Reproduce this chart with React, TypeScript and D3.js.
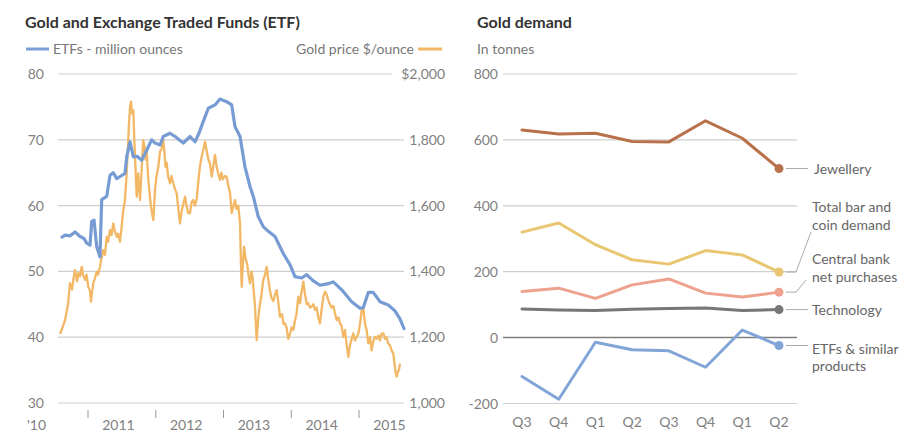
import React from "react";
import * as d3 from "d3";

// ---------- Left chart data ----------
// ETF holdings, million ounces: [decimal year, value]
const etfHoldings: [number, number][] = [
  [2010.616, 55.2], [2010.661, 55.5], [2010.734, 55.4], [2010.808, 56.0], [2010.882, 55.3],
  [2010.941, 55.0], [2010.981, 54.3], [2011.030, 54.0], [2011.055, 57.6], [2011.089, 57.8],
  [2011.128, 53.8], [2011.177, 52.2], [2011.202, 60.9], [2011.276, 61.4], [2011.325, 64.6],
  [2011.373, 65.0], [2011.424, 64.1], [2011.487, 64.5], [2011.546, 64.9], [2011.571, 67.4],
  [2011.620, 69.7], [2011.669, 67.4], [2011.723, 67.5], [2011.793, 66.9], [2011.866, 68.4],
  [2011.940, 70.0], [2011.989, 69.5], [2012.063, 69.2], [2012.111, 70.5], [2012.210, 71.0],
  [2012.299, 70.4], [2012.407, 69.5], [2012.506, 70.5], [2012.579, 69.7], [2012.638, 71.0],
  [2012.702, 72.8], [2012.776, 74.8], [2012.875, 75.3], [2012.948, 76.2], [2013.047, 75.8],
  [2013.121, 75.3], [2013.170, 72.0], [2013.244, 70.5], [2013.317, 65.9], [2013.391, 62.9],
  [2013.440, 61.4], [2013.514, 58.3], [2013.587, 56.8], [2013.638, 56.3], [2013.760, 55.3],
  [2013.883, 52.7], [2013.982, 51.0], [2014.055, 49.2], [2014.154, 49.0], [2014.228, 49.5],
  [2014.321, 48.6], [2014.424, 47.9], [2014.528, 48.1], [2014.621, 48.4], [2014.745, 47.2],
  [2014.892, 45.4], [2015.015, 44.4], [2015.064, 44.5], [2015.137, 46.8], [2015.211, 46.8],
  [2015.310, 45.4], [2015.432, 44.9], [2015.531, 44.0], [2015.605, 42.8], [2015.664, 41.3],
];

// Gold price, $/ounce: [decimal year, price]
const goldPrice: [number, number][] = [
  [2010.587, 1210], [2010.616, 1225], [2010.661, 1252], [2010.705, 1300], [2010.734, 1364],
  [2010.764, 1345], [2010.783, 1374], [2010.808, 1404], [2010.838, 1370], [2010.857, 1395],
  [2010.882, 1385], [2010.907, 1414], [2010.926, 1390], [2010.956, 1374], [2010.978, 1390],
  [2011.004, 1353], [2011.030, 1340], [2011.044, 1308], [2011.059, 1335], [2011.078, 1364],
  [2011.103, 1380], [2011.128, 1399], [2011.148, 1390], [2011.177, 1414], [2011.199, 1440],
  [2011.226, 1465], [2011.251, 1450], [2011.276, 1505], [2011.295, 1490], [2011.325, 1526],
  [2011.347, 1510], [2011.373, 1546], [2011.399, 1520], [2011.424, 1505], [2011.443, 1515],
  [2011.472, 1490], [2011.497, 1536], [2011.517, 1580], [2011.546, 1617], [2011.571, 1698],
  [2011.590, 1780], [2011.605, 1850], [2011.620, 1900], [2011.635, 1916], [2011.649, 1880],
  [2011.669, 1890], [2011.682, 1810], [2011.694, 1749], [2011.708, 1680], [2011.719, 1627],
  [2011.731, 1660], [2011.742, 1698], [2011.756, 1650], [2011.768, 1617], [2011.790, 1700],
  [2011.804, 1760], [2011.816, 1799], [2011.834, 1780], [2011.849, 1740], [2011.866, 1769],
  [2011.878, 1720], [2011.890, 1680], [2011.908, 1640], [2011.930, 1597], [2011.945, 1577],
  [2011.964, 1556], [2011.977, 1600], [2011.989, 1647], [2012.011, 1690], [2012.038, 1718],
  [2012.063, 1764], [2012.088, 1774], [2012.111, 1799], [2012.129, 1760], [2012.144, 1718],
  [2012.162, 1730], [2012.181, 1690], [2012.210, 1668], [2012.232, 1690], [2012.259, 1668],
  [2012.284, 1650], [2012.309, 1637], [2012.328, 1600], [2012.358, 1546], [2012.380, 1580],
  [2012.402, 1600], [2012.432, 1627], [2012.454, 1600], [2012.480, 1577], [2012.506, 1577],
  [2012.528, 1610], [2012.554, 1617], [2012.579, 1600], [2012.604, 1620], [2012.631, 1680],
  [2012.653, 1720], [2012.678, 1749], [2012.702, 1770], [2012.727, 1794], [2012.749, 1770],
  [2012.776, 1740], [2012.801, 1728], [2012.826, 1688], [2012.849, 1720], [2012.875, 1754],
  [2012.897, 1720], [2012.919, 1700], [2012.948, 1678], [2012.970, 1700], [2012.993, 1680],
  [2013.022, 1690], [2013.047, 1688], [2013.071, 1660], [2013.096, 1640], [2013.121, 1577],
  [2013.145, 1597], [2013.170, 1617], [2013.192, 1590], [2013.218, 1600], [2013.244, 1546],
  [2013.258, 1420], [2013.269, 1353], [2013.280, 1400], [2013.303, 1475], [2013.325, 1440],
  [2013.351, 1420], [2013.369, 1390], [2013.391, 1364], [2013.413, 1400], [2013.431, 1380],
  [2013.450, 1330], [2013.465, 1293], [2013.477, 1240], [2013.490, 1191], [2013.506, 1240],
  [2013.524, 1280], [2013.539, 1300], [2013.561, 1330], [2013.587, 1374], [2013.613, 1390],
  [2013.638, 1414], [2013.657, 1380], [2013.686, 1343], [2013.708, 1320], [2013.735, 1310],
  [2013.760, 1330], [2013.785, 1343], [2013.812, 1300], [2013.834, 1262], [2013.863, 1270],
  [2013.886, 1240], [2013.908, 1242], [2013.930, 1230], [2013.956, 1195], [2013.982, 1210],
  [2014.004, 1230], [2014.030, 1222], [2014.055, 1250], [2014.077, 1270], [2014.104, 1323],
  [2014.129, 1303], [2014.154, 1340], [2014.178, 1369], [2014.203, 1330], [2014.228, 1300],
  [2014.252, 1303], [2014.277, 1290], [2014.302, 1293], [2014.328, 1300], [2014.351, 1283],
  [2014.376, 1290], [2014.399, 1260], [2014.424, 1242], [2014.446, 1280], [2014.473, 1323],
  [2014.498, 1338], [2014.523, 1330], [2014.550, 1310], [2014.572, 1300], [2014.594, 1290],
  [2014.621, 1295], [2014.646, 1272], [2014.671, 1252], [2014.697, 1260], [2014.720, 1242],
  [2014.742, 1235], [2014.768, 1201], [2014.793, 1222], [2014.815, 1180], [2014.842, 1140],
  [2014.867, 1175], [2014.892, 1195], [2014.916, 1212], [2014.941, 1190], [2014.963, 1200],
  [2014.990, 1210], [2015.015, 1240], [2015.040, 1283], [2015.064, 1288], [2015.089, 1240],
  [2015.114, 1220], [2015.137, 1181], [2015.162, 1200], [2015.187, 1160], [2015.207, 1185],
  [2015.236, 1201], [2015.261, 1195], [2015.288, 1205], [2015.310, 1190], [2015.332, 1210],
  [2015.359, 1212], [2015.384, 1195], [2015.406, 1200], [2015.432, 1181], [2015.458, 1175],
  [2015.480, 1160], [2015.506, 1151], [2015.524, 1120], [2015.539, 1095], [2015.556, 1080],
  [2015.573, 1095], [2015.590, 1100], [2015.605, 1120],
];

const etfTicks = [30, 40, 50, 60, 70, 80];
const priceTicks = [1000, 1200, 1400, 1600, 1800, 2000];
const yearBoundaries = [2011, 2012, 2013, 2014, 2015];
const yearLabels = ["2011", "2012", "2013", "2014", "2015"];
const firstYearLabel = "'10";

// ---------- Right chart data ----------
const quarters = ["Q3", "Q4", "Q1", "Q2", "Q3", "Q4", "Q1", "Q2"];
const jewellery = [630, 618, 620, 595, 594, 658, 605, 513];
const barCoin = [320, 348, 282, 236, 223, 264, 251, 199];
const centralBank = [140, 150, 119, 160, 178, 135, 123, 138];
const technology = [87, 84, 82, 86, 88, 90, 82, 85];
const etfDemand = [-118, -187, -14, -37, -40, -90, 23, -24];
const demandTicks = [-200, 0, 200, 400, 600, 800];

const FONT = "Lato, 'Noto Sans', sans-serif";
const GRID = "#cfcfcf";
const TICK_TEXT = "#808080";

export default function App() {
  // left scales
  const xL = d3.scaleLinear().domain([2011, 2015]).range([88, 359]);
  const yEtf = d3.scaleLinear().domain([30, 80]).range([403, 74]);
  const yGold = d3.scaleLinear().domain([1000, 2000]).range([403, 74]);
  const etfLine = d3.line<[number, number]>().x((d) => xL(d[0])).y((d) => yEtf(d[1]));
  const goldLine = d3.line<[number, number]>().x((d) => xL(d[0])).y((d) => yGold(d[1]));
  const fmt = d3.format(",");

  // right scales
  const xR = d3.scalePoint<number>().domain(quarters.map((_, i) => i)).range([522, 779]);
  const yR = d3.scaleLinear().domain([-200, 800]).range([403.5, 74]);
  const demandLine = d3
    .line<number>()
    .x((_, i) => xR(i) as number)
    .y((d) => yR(d));

  const series = [
    { key: "jew", values: jewellery, color: "#b8714a" },
    { key: "bar", values: barCoin, color: "#e8c672" },
    { key: "cb", values: centralBank, color: "#eea28d" },
    { key: "tech", values: technology, color: "#777777" },
    { key: "etf", values: etfDemand, color: "#82a5d8" },
  ];
  const lastX = xR(quarters.length - 1) as number;
  const lastY = (v: number[]) => yR(v[v.length - 1]);

  const labelStyle = { fontFamily: FONT, fontSize: 14, fill: "#666" } as const;

  return (
    <svg
      width={902}
      height={432}
      style={{ position: "absolute", left: 0, top: 0, background: "#fff" }}
    >
      {/* ---------- LEFT CHART ---------- */}
      <text x={25} y={28} style={{ fontFamily: FONT, fontSize: 16, fontWeight: 700, fill: "#333" }}>
        Gold and Exchange Traded Funds (ETF)
      </text>
      <line x1={26} x2={49} y1={49} y2={49} stroke="#7b9fd4" strokeWidth={3} />
      <text x={53} y={54} style={{ fontFamily: FONT, fontSize: 14, fill: "#777" }}>
        ETFs - million ounces
      </text>
      <text x={414} y={54} textAnchor="end" style={{ fontFamily: FONT, fontSize: 14, fill: "#777" }}>
        Gold price $/ounce
      </text>
      <line x1={418} x2={442} y1={49} y2={49} stroke="#f2b866" strokeWidth={3} />

      {etfTicks.map((t, i) => (
        <g key={"lg" + t}>
          <line
            x1={58}
            x2={i === etfTicks.length - 1 ? 392 : 404}
            y1={yEtf(t)}
            y2={yEtf(t)}
            stroke={GRID}
            strokeWidth={1.2}
          />
          <text x={44} y={yEtf(t) + 5} textAnchor="end" style={{ fontFamily: FONT, fontSize: 14, fill: TICK_TEXT }}>
            {t}
          </text>
        </g>
      ))}
      {priceTicks.map((t, i) => (
        <text
          key={"rt" + t}
          x={445}
          y={yGold(t) + 5}
          textAnchor="end"
          style={{ fontFamily: FONT, fontSize: 14, fill: TICK_TEXT }}
        >
          {i === priceTicks.length - 1 ? "$" + fmt(t) : fmt(t)}
        </text>
      ))}

      {yearBoundaries.map((y) => (
        <line key={"yt" + y} x1={xL(y)} x2={xL(y)} y1={410} y2={418} stroke="#999" strokeWidth={1} />
      ))}
      <text x={27} y={430} style={{ fontFamily: FONT, fontSize: 14, fill: TICK_TEXT }}>
        {firstYearLabel}
      </text>
      {yearLabels.map((lab, i) => (
        <text
          key={"yl" + lab}
          x={xL(yearBoundaries[i] + 0.45)}
          y={430}
          textAnchor="middle"
          style={{ fontFamily: FONT, fontSize: 14, fill: TICK_TEXT }}
        >
          {lab}
        </text>
      ))}

      <path
        d={goldLine(goldPrice) || ""}
        fill="none"
        stroke="#f2b866"
        strokeWidth={2.3}
        strokeLinejoin="round"
      />
      <path
        d={etfLine(etfHoldings) || ""}
        fill="none"
        stroke="#779cd3"
        strokeWidth={3.2}
        strokeLinejoin="round"
        strokeLinecap="round"
      />

      {/* ---------- RIGHT CHART ---------- */}
      <text x={477} y={28} style={{ fontFamily: FONT, fontSize: 16, fontWeight: 700, fill: "#333" }}>
        Gold demand
      </text>
      <text x={477} y={54} style={{ fontFamily: FONT, fontSize: 14, fill: "#777" }}>
        In tonnes
      </text>

      {demandTicks.map((t) => (
        <g key={"dg" + t}>
          <line
            x1={503}
            x2={797}
            y1={yR(t)}
            y2={yR(t)}
            stroke={t === 0 ? "#7d7d7d" : GRID}
            strokeWidth={t === 0 ? 1.5 : 1.2}
          />
          <text x={498} y={yR(t) + 5} textAnchor="end" style={{ fontFamily: FONT, fontSize: 14, fill: TICK_TEXT }}>
            {t}
          </text>
        </g>
      ))}
      {quarters.map((q, i) => (
        <text
          key={"q" + i}
          x={xR(i) as number}
          y={427}
          textAnchor="middle"
          style={{ fontFamily: FONT, fontSize: 14, fill: TICK_TEXT }}
        >
          {q}
        </text>
      ))}

      {/* connectors */}
      <g stroke="#aaa" strokeWidth={1} fill="none">
        <line x1={lastX + 7} x2={808} y1={lastY(jewellery)} y2={lastY(jewellery)} />
        <polyline points={`${lastX + 7},${lastY(barCoin)} ${796},${lastY(barCoin)} ${811},${232}`} />
        <polyline points={`${lastX + 7},${lastY(centralBank)} ${796},${lastY(centralBank)} ${806},${280}`} />
        <line x1={lastX + 7} x2={808} y1={lastY(technology)} y2={lastY(technology)} />
        <line x1={lastX + 7} x2={808} y1={lastY(etfDemand)} y2={lastY(etfDemand)} />
      </g>

      {series.map((s) => (
        <g key={s.key}>
          <path
            d={demandLine(s.values) || ""}
            fill="none"
            stroke={s.color}
            strokeWidth={3}
            strokeLinejoin="round"
            strokeLinecap="round"
          />
          <circle cx={lastX} cy={lastY(s.values)} r={4.5} fill={s.color} />
        </g>
      ))}

      <text x={814} y={lastY(jewellery) + 5} style={labelStyle}>Jewellery</text>
      <text x={812} y={212} style={labelStyle}>Total bar and</text>
      <text x={812} y={230} style={labelStyle}>coin demand</text>
      <text x={812} y={264} style={labelStyle}>Central bank</text>
      <text x={812} y={282} style={labelStyle}>net purchases</text>
      <text x={812} y={lastY(technology) + 5} style={labelStyle}>Technology</text>
      <text x={812} y={354} style={labelStyle}>ETFs &amp; similar</text>
      <text x={812} y={371} style={labelStyle}>products</text>
    </svg>
  );
}
